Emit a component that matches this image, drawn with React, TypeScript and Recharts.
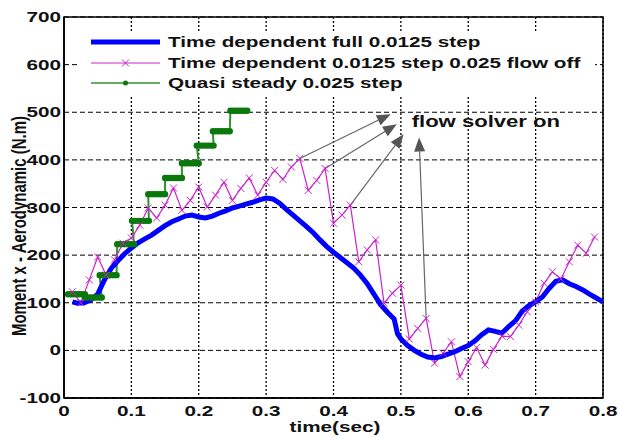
import {
  LineChart,
  Line,
  XAxis,
  YAxis,
  CartesianGrid,
  Legend,
  ReferenceArea,
  ReferenceLine,
  ReferenceDot,
} from 'recharts';

// Time dependent, full 0.0125 step
const fullTime = [
  0.0125, 0.02, 0.03, 0.04, 0.05, 0.06, 0.07, 0.08, 0.09, 0.1, 0.11, 0.12, 0.13, 0.14, 0.15, 0.16,
  0.17, 0.18, 0.19, 0.2, 0.21, 0.22, 0.23, 0.24, 0.25, 0.26, 0.27, 0.28, 0.29, 0.3, 0.31, 0.32,
  0.33, 0.34, 0.35, 0.36, 0.37, 0.38, 0.39, 0.4, 0.41, 0.42, 0.43, 0.44, 0.45, 0.46, 0.47, 0.48,
  0.49, 0.495, 0.5, 0.51, 0.52, 0.53, 0.54, 0.55, 0.56, 0.57, 0.58, 0.59, 0.6, 0.61, 0.62, 0.63,
  0.64, 0.65, 0.66, 0.67, 0.68, 0.69, 0.7, 0.71, 0.72, 0.73, 0.74, 0.75, 0.76, 0.77, 0.78, 0.79, 0.8,
];
const fullMoment = [
  102, 99, 100, 106, 118, 148, 172, 188, 203, 215, 226, 234, 242, 252, 262, 270,
  276, 282, 284, 280, 278, 282, 288, 293, 299, 303, 307, 311, 316, 320, 318, 309,
  296, 284, 272, 260, 247, 232, 218, 206, 195, 184, 173, 158, 140, 118, 96, 80,
  66, 35, 24, 10, 0, -8, -14, -16, -13, -8, -3, 4, 10, 20, 33, 43,
  40, 36, 50, 62, 82, 94, 102, 112, 130, 145, 148, 140, 134, 127, 118, 110, 102,
];

// Time dependent, 0.0125 step with the flow solver off every 0.025
const flowOffStep = 0.0125;
const flowOffMoment = [
  123, 100, 148, 196, 158, 190, 225, 236, 263, 299, 278, 305, 341, 294, 315, 343,
  301, 326, 353, 315, 340, 362, 326, 353, 378, 359, 385, 403, 336, 357, 382, 267,
  284, 305, 186, 211, 232, 99, 120, 137, 24, 46, 67, -27, -6, 18, -55, -24,
  6, -31, 2, 30, 29, 53, 81, 102, 141, 165, 150, 186, 221, 204, 238,
];

// Quasi steady, value held over each 0.025 step
const quasiHold = 0.025;
const quasiStart = [0.006, 0.031, 0.053, 0.079, 0.101, 0.125, 0.15, 0.175, 0.197, 0.221, 0.247];
const quasiMoment = [118, 111, 158, 223, 272, 328, 362, 393, 430, 460, 503];

const xTicks = [0, 0.1, 0.2, 0.3, 0.4, 0.5, 0.6, 0.7, 0.8];
const yTicks = [-100, 0, 100, 200, 300, 400, 500, 600, 700];

// "flow solver on" arrows: tail on a magenta peak, head near the caption
const arrowFrom = [
  { x: 0.35, y: 403 },
  { x: 0.3875, y: 382 },
  { x: 0.425, y: 305 },
  { x: 0.5375, y: 67 },
];
const arrowTo = [
  { x: 0.485, y: 496 },
  { x: 0.494, y: 475 },
  { x: 0.504, y: 454 },
  { x: 0.527, y: 447 },
];
const captionAt = { x: 0.516, y: 479 };

const legendNames = [
  'Time dependent full 0.0125 step',
  'Time dependent 0.0125 step 0.025 flow off',
  'Quasi steady 0.025 step',
];

const BLUE = '#0000ff';
const MAGENTA = '#cc22cc';
const GREEN = '#0a780a';
const GREEN_LINE = '#2f922f';
const FONT = '"Liberation Sans", Arial, sans-serif';
const STRETCH = 1.38;

const fullData = fullTime.map((t, i) => ({ t, v: fullMoment[i] }));
const flowOffData = flowOffMoment.map((v, i) => ({ t: +(flowOffStep * (i + 1)).toFixed(4), v }));
const quasiData = quasiStart.flatMap((s, i) =>
  [0, 1, 2, 3, 4, 5, 6].map((j) => ({ t: s + (j * quasiHold) / 6, v: quasiMoment[i] }))
);

const XMark = (p: any) => {
  const { cx, cy, index } = p;
  const s = 3.5;
  return (
    <path
      key={`x-${index}`}
      d={`M${cx - s},${cy - s}L${cx + s},${cy + s}M${cx - s},${cy + s}L${cx + s},${cy - s}`}
      stroke={MAGENTA}
      strokeWidth={1}
      fill="none"
    />
  );
};

const HeldDot = (p: any) => (
  <ellipse key={`g-${p.index}`} cx={p.cx} cy={p.cy} rx={3.2} ry={3.2} fill={GREEN} />
);

const Arrow = (p: any) => {
  const { x1, y1, x2, y2 } = p;
  const a = Math.atan2(y2 - y1, x2 - x1);
  const len = 14;
  const half = 5.5;
  const bx = x2 - len * Math.cos(a);
  const by = y2 - len * Math.sin(a);
  const nx = -Math.sin(a) * half;
  const ny = Math.cos(a) * half;
  return (
    <g>
      <line x1={x1} y1={y1} x2={bx} y2={by} stroke="#666" strokeWidth={1.2} />
      <polygon points={`${x2},${y2} ${bx + nx},${by + ny} ${bx - nx},${by - ny}`} fill="#555" />
    </g>
  );
};

const Caption = (p: any) => (
  <text
    transform={`translate(${p.cx},${p.cy + 5}) scale(${STRETCH},1)`}
    fontFamily={FONT}
    fontWeight="bold"
    fontSize={16}
    fill="#111"
  >
    flow solver on
  </text>
);

const XTick = (p: any) => (
  <text
    transform={`translate(${p.x},${p.y + 10}) scale(${STRETCH},1)`}
    textAnchor="middle"
    fontFamily={FONT}
    fontWeight="bold"
    fontSize={15}
    fill="#111"
  >
    {String(p.payload.value)}
  </text>
);

const YTick = (p: any) => (
  <text
    transform={`translate(${p.x + 5},${p.y + 5}) scale(${STRETCH},1)`}
    textAnchor="end"
    fontFamily={FONT}
    fontWeight="bold"
    fontSize={15}
    fill="#111"
  >
    {String(p.payload.value)}
  </text>
);

const YLabel = () => (
  <text
    transform={`translate(26,226) rotate(-90) scale(1,${STRETCH})`}
    textAnchor="middle"
    fontFamily={FONT}
    fontWeight="bold"
    fontSize={15}
    fill="#111"
  >
    Moment x - Aerodynamic (N.m)
  </text>
);

const XLabel = () => (
  <text
    transform={`translate(335,432) scale(${STRETCH},1)`}
    textAnchor="middle"
    fontFamily={FONT}
    fontWeight="bold"
    fontSize={15}
    fill="#111"
  >
    time(sec)
  </text>
);

const LegendBox = () => {
  const rows = [9, 30, 50];
  return (
    <svg width={515} height={63} style={{ display: 'block' }}>
      <rect x={0} y={0} width={515} height={63} fill="#fff" />
      <line x1={11} y1={rows[0]} x2={80} y2={rows[0]} stroke={BLUE} strokeWidth={5} />
      <line x1={11} y1={rows[1]} x2={80} y2={rows[1]} stroke={MAGENTA} strokeWidth={1} />
      <path
        d={`M42,${rows[1] - 3.5}L49,${rows[1] + 3.5}M42,${rows[1] + 3.5}L49,${rows[1] - 3.5}`}
        stroke={MAGENTA}
        strokeWidth={1}
      />
      <line x1={11} y1={rows[2]} x2={80} y2={rows[2]} stroke={GREEN_LINE} strokeWidth={1.5} />
      <circle cx={45.5} cy={rows[2]} r={2.5} fill={GREEN} />
      {legendNames.map((name, i) => (
        <text
          key={name}
          transform={`translate(88,${rows[i] + 5}) scale(${STRETCH},1)`}
          fontFamily={FONT}
          fontWeight="bold"
          fontSize={15}
          fill="#111"
        >
          {name}
        </text>
      ))}
    </svg>
  );
};

export default function App() {
  return (
    <div style={{ position: 'absolute', left: 0, top: 0, width: 618, height: 437, background: '#fff' }}>
      <LineChart width={618} height={437} margin={{ top: 17, right: 15, bottom: 0, left: 0 }}>
        <CartesianGrid vertical={false} stroke="#000" strokeDasharray="5 3" strokeWidth={1} />
        <CartesianGrid horizontal={false} stroke="#000" strokeDasharray="2 2" strokeWidth={1.3} />
        <XAxis
          type="number"
          dataKey="t"
          domain={[0, 0.8]}
          ticks={xTicks}
          height={39}
          tickLine={false}
          axisLine={{ stroke: '#000', strokeWidth: 1.5 }}
          tick={<XTick />}
          label={<XLabel />}
          allowDataOverflow
        />
        <YAxis
          type="number"
          domain={[-100, 700]}
          ticks={yTicks}
          width={64}
          tickLine={false}
          axisLine={{ stroke: '#000', strokeWidth: 1.5 }}
          tick={<YTick />}
          label={<YLabel />}
        />
        <ReferenceArea
          x1={0}
          x2={0.8}
          y1={-100}
          y2={700}
          fill="none"
          fillOpacity={0}
          stroke="#000"
          strokeWidth={1.5}
        />
        <Legend
          layout="vertical"
          align="center"
          verticalAlign="middle"
          content={<LegendBox />}
          wrapperStyle={{ left: 80, top: 33, width: 515, height: 63 }}
        />
        <Line
          data={quasiData}
          dataKey="v"
          name={legendNames[2]}
          stroke={GREEN_LINE}
          strokeWidth={2}
          dot={HeldDot}
          activeDot={false}
          isAnimationActive={false}
        />
        <Line
          data={flowOffData}
          dataKey="v"
          name={legendNames[1]}
          stroke={MAGENTA}
          strokeWidth={1.2}
          dot={XMark}
          activeDot={false}
          isAnimationActive={false}
        />
        <Line
          data={fullData}
          dataKey="v"
          name={legendNames[0]}
          stroke={BLUE}
          strokeWidth={5}
          dot={false}
          activeDot={false}
          isAnimationActive={false}
        />
        {arrowFrom.map((from, i) => (
          <ReferenceLine
            key={`arrow-${i}`}
            segment={[from, arrowTo[i]]}
            shape={Arrow}
            ifOverflow="visible"
          />
        ))}
        <ReferenceDot x={captionAt.x} y={captionAt.y} r={0} shape={Caption} ifOverflow="visible" />
      </LineChart>
    </div>
  );
}
